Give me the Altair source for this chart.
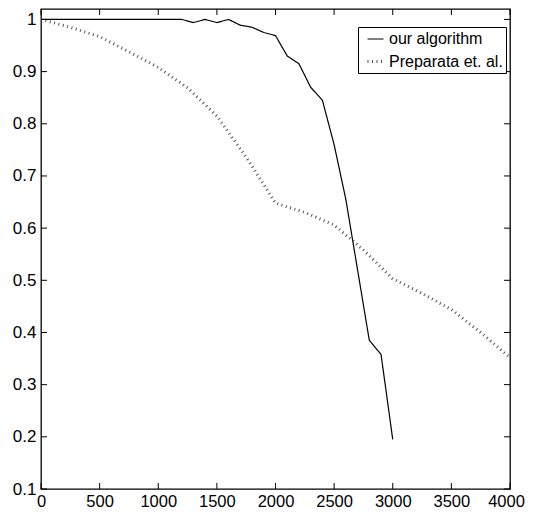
import altair as alt
import pandas as pd

# ---- data ----
series_names = ["our algorithm", "Preparata et. al."]

x_ours = [0, 100, 200, 300, 400, 500, 600, 700, 800, 900, 1000, 1100, 1200,
          1300, 1400, 1500, 1600, 1700, 1800, 1900, 2000, 2100, 2200, 2300,
          2400, 2500, 2600, 2700, 2800, 2900, 3000]
y_ours = [1.0, 1.0, 1.0, 1.0, 1.0, 1.0, 1.0, 1.0, 1.0, 1.0, 1.0, 1.0, 1.0,
          0.994, 1.0, 0.994, 1.0, 0.989, 0.985, 0.975, 0.969, 0.93, 0.915, 0.87,
          0.845, 0.76, 0.655, 0.52, 0.385, 0.358, 0.195]

x_prep = [0, 250, 500, 750, 1000, 1250, 1500, 1750, 2000, 2250, 2500, 2750,
          3000, 3250, 3500, 3750, 4000]
y_prep = [1.0, 0.985, 0.967, 0.938, 0.908, 0.869, 0.815, 0.736, 0.648, 0.63,
          0.606, 0.558, 0.503, 0.475, 0.444, 0.4, 0.352]

x_ticks = [0, 500, 1000, 1500, 2000, 2500, 3000, 3500, 4000]
y_ticks = [0.1, 0.2, 0.3, 0.4, 0.5, 0.6, 0.7, 0.8, 0.9, 1.0]

df = pd.concat([
    pd.DataFrame({"x": x_ours, "y": y_ours, "series": series_names[0]}),
    pd.DataFrame({"x": x_prep, "y": y_prep, "series": series_names[1]}),
], ignore_index=True)
xt = pd.DataFrame({"x": x_ticks})
yt = pd.DataFrame({"y": y_ticks})

W, H = 469, 480
FONT = "Liberation Sans"
xs = alt.Scale(domain=[0, 4000], nice=False, zero=False)
ys = alt.Scale(domain=[0.1, 1.02], nice=False, zero=False)

x_axis = alt.Axis(
    values=x_ticks, ticks=False, domain=False, grid=False, title=None,
    labelFont=FONT, labelFontSize=16.5, labelColor="black", labelPadding=4,
    labelFlush=False, format="d",
    labelOffset={"condition": {"test": "datum.value == 4000", "value": -4}, "value": 0})
y_axis = alt.Axis(
    values=y_ticks, ticks=False, domain=False, grid=False, title=None,
    labelFont=FONT, labelFontSize=17, labelColor="black", labelPadding=5,
    format=".1~f")

leg = alt.Legend(
    title=None, orient="none", legendX=317, legendY=18,
    strokeColor="black", fillColor="white", padding=3,
    symbolType="stroke", symbolSize=256, symbolOffset=5,
    labelFont=FONT, labelFontSize=16, labelColor="black", labelOffset=4,
    rowPadding=5, cornerRadius=0)

lines = alt.Chart(df).mark_line(clip=True).encode(
    x=alt.X("x:Q", scale=xs, axis=x_axis),
    y=alt.Y("y:Q", scale=ys, axis=y_axis),
    color=alt.Color("series:N", scale=alt.Scale(domain=series_names, range=["black", "#555555"]),
                    legend=leg),
    strokeDash=alt.StrokeDash("series:N", scale=alt.Scale(domain=series_names, range=[[1, 0], [1, 3.5]]),
                              legend=leg),
    strokeWidth=alt.StrokeWidth("series:N", scale=alt.Scale(domain=series_names, range=[1.2, 3]),
                                legend=leg),
)

tick_style = dict(color="black", strokeWidth=1)
xb = alt.Chart(xt).mark_rule(**tick_style).encode(
    x=alt.X("x:Q", scale=xs, axis=x_axis), y=alt.value(H), y2=alt.value(H - 6))
xtop = alt.Chart(xt).mark_rule(**tick_style).encode(
    x=alt.X("x:Q", scale=xs, axis=x_axis), y=alt.value(0), y2=alt.value(6))
yl = alt.Chart(yt).mark_rule(**tick_style).encode(
    y=alt.Y("y:Q", scale=ys, axis=y_axis), x=alt.value(0), x2=alt.value(6))
yr = alt.Chart(yt).mark_rule(**tick_style).encode(
    y=alt.Y("y:Q", scale=ys, axis=y_axis), x=alt.value(W), x2=alt.value(W - 6))

chart = alt.layer(lines, xb, xtop, yl, yr).properties(
    width=W, height=H,
    background="white",
    autosize=alt.AutoSizeParams(type="none"),
    padding={"left": 33, "top": 1, "right": 15, "bottom": 22},
).configure_view(
    stroke="black", strokeWidth=1.3, fill="white"
)

chart.save("out.html", embed_options={"renderer": "svg", "actions": False})
